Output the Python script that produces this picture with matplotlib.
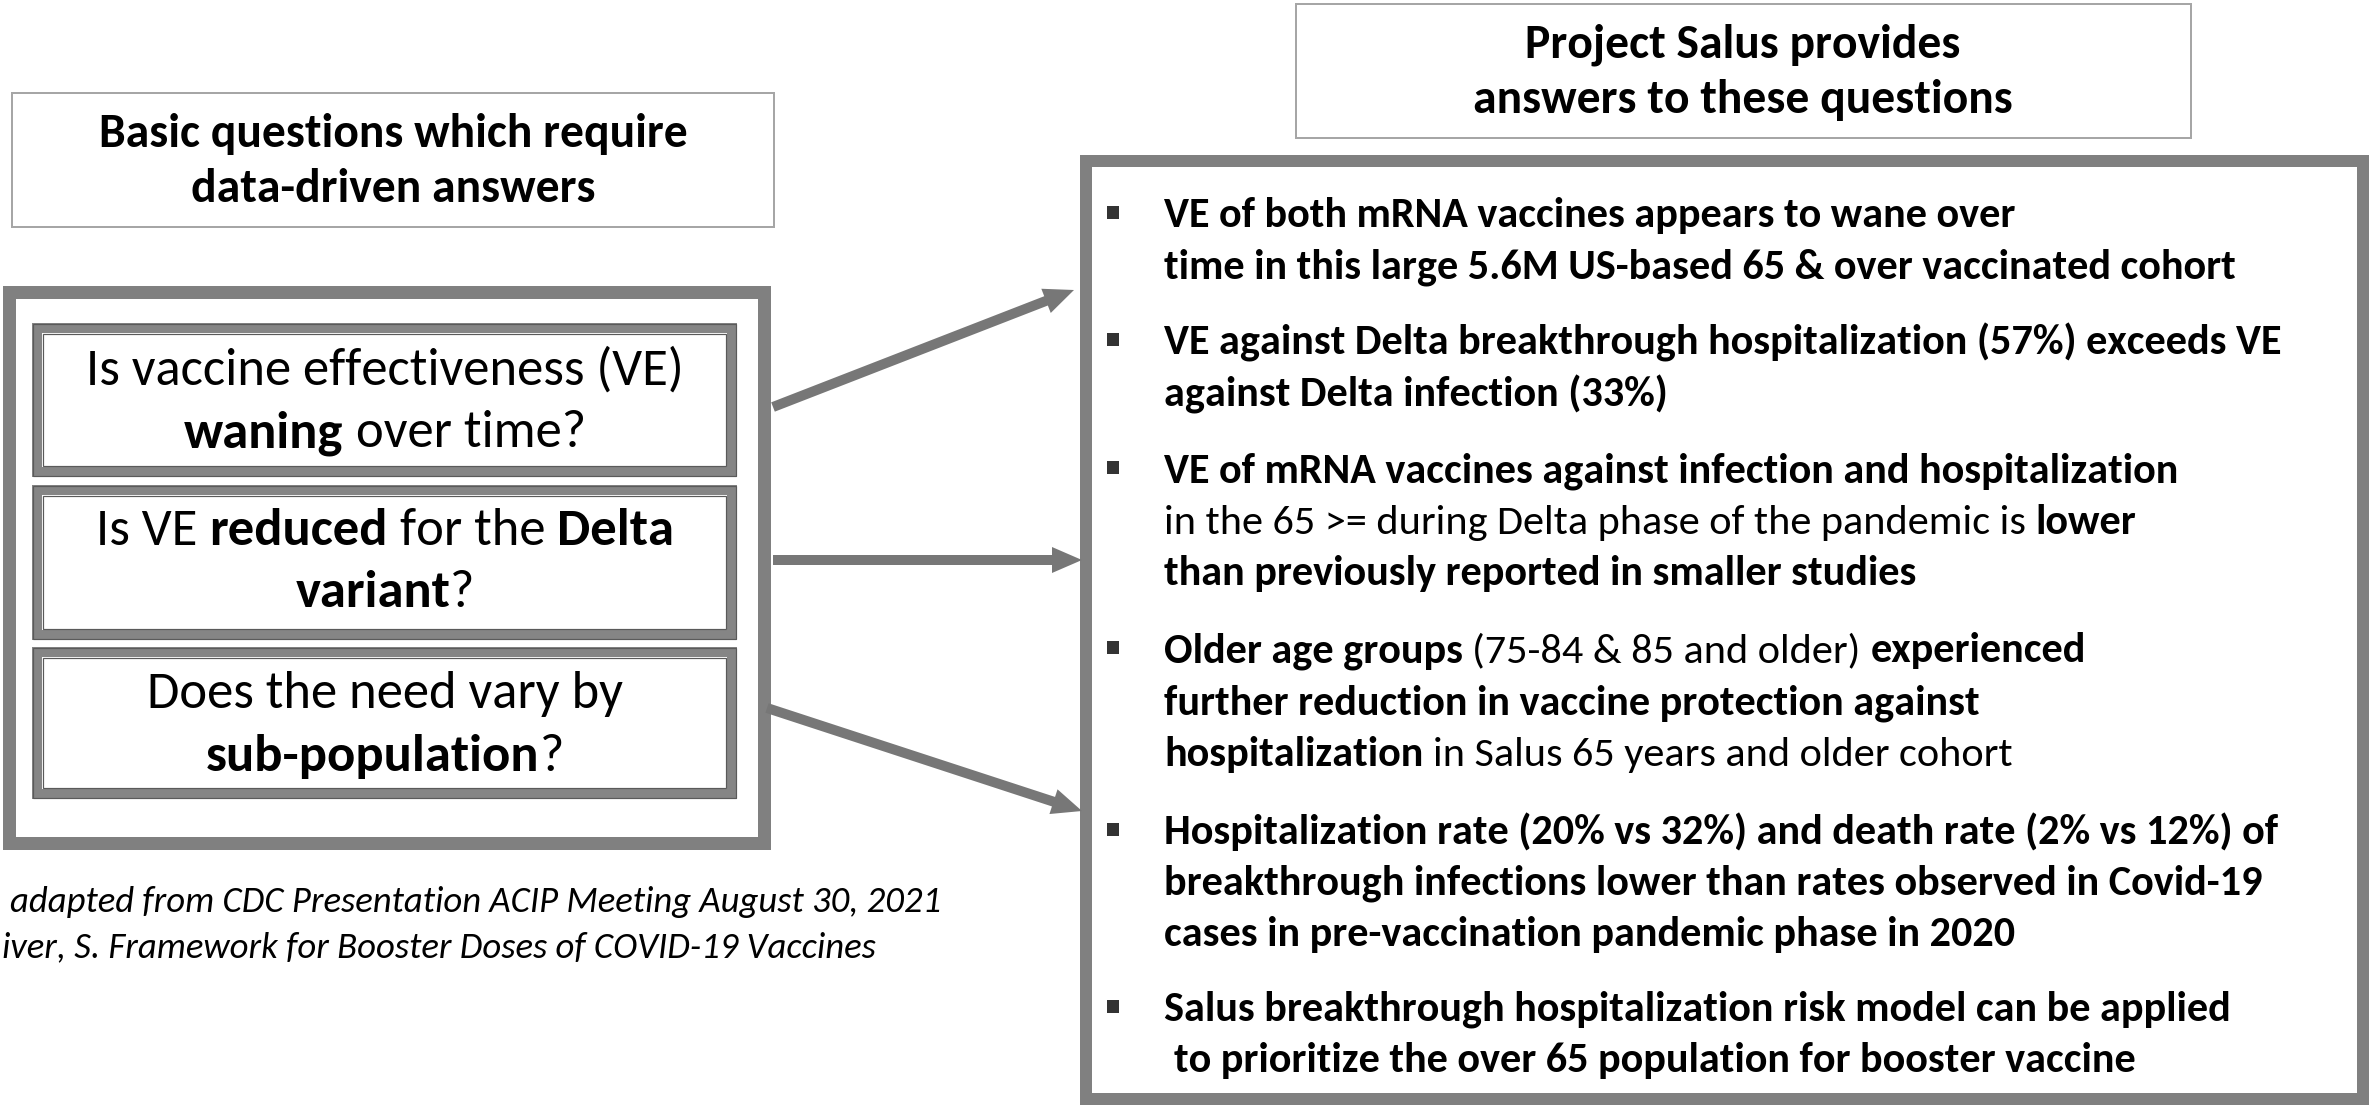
import matplotlib
matplotlib.use("Agg")
import matplotlib.pyplot as plt
from matplotlib.patches import Rectangle, FancyArrow

# ---- content -------------------------------------------------------------
LEFT_TITLE = ["Basic questions which require", "data-driven answers"]
RIGHT_TITLE = ["Project Salus provides", "answers to these questions"]

# each question: list of lines, each line: list of (text, bold)
QUESTIONS = [
    [[("Is vaccine effectiveness (VE)", False)],
     [("waning", True), (" over time?", False)]],
    [[("Is VE ", False), ("reduced", True), (" for the ", False), ("Delta", True)],
     [("variant", True), ("?", False)]],
    [[("Does the need vary by", False)],
     [("sub-population", True), ("?", False)]],
]

ANSWERS = [
    [[("VE of both mRNA vaccines appears to wane over", True)],
     [("time in this large 5.6M US-based 65 & over vaccinated cohort", True)]],
    [[("VE against Delta breakthrough hospitalization (57%) exceeds VE", True)],
     [("against Delta infection (33%)", True)]],
    [[("VE of mRNA vaccines against infection and hospitalization", True)],
     [("in the 65 >= during Delta phase of the pandemic is ", False), ("lower", True)],
     [("than previously reported in smaller studies", True)]],
    [[("Older age groups", True), (" (75-84 & 85 and older) ", False), ("experienced", True)],
     [("further reduction in vaccine protection against", True)],
     [("hospitalization", True), (" in Salus 65 years and older cohort", False)]],
    [[("Hospitalization rate (20% vs 32%) and death rate (2% vs 12%) of", True)],
     [("breakthrough infections lower than rates observed in Covid-19", True)],
     [("cases in pre-vaccination pandemic phase in 2020", True)]],
    [[("Salus breakthrough hospitalization risk model can be applied", True)],
     [(" to prioritize the over 65 population for booster vaccine", True)]],
]

FOOTNOTES = [" adapted from CDC Presentation ACIP Meeting August 30, 2021",
             "iver, S. Framework for Booster Doses of COVID-19 Vaccines"]

FAM = ["Carlito", "Lato", "DejaVu Sans"]
GREY = "#808080"
W, H = 2369, 1105

fig = plt.figure(figsize=(W / 100, H / 100), dpi=100)
ax = fig.add_axes([0, 0, 1, 1])
ax.set_xlim(0, W)
ax.set_ylim(H, 0)
ax.axis("off")
R = fig.canvas.get_renderer()


def kw(size, bold, italic=False):
    return dict(fontsize=size, fontweight="bold" if bold else "normal",
                fontstyle="italic" if italic else "normal", family=FAM)


def adv(s, size, bold, italic=False):
    # advance width in px, spaces included
    t1 = ax.text(0, 0, "|" + s + "|", **kw(size, bold, italic))
    t2 = ax.text(0, 0, "||", **kw(size, bold, italic))
    w = t1.get_window_extent(R).width - t2.get_window_extent(R).width
    t1.remove()
    t2.remove()
    return w


def fit(s, target, bold, italic=False):
    return 30 * target / adv(s, 30, bold, italic)


def draw_line(x, y, segs, size, ha="left", italic=False, color="black"):
    widths = [adv(s, size, b, italic) for s, b in segs]
    if ha == "center":
        x -= sum(widths) / 2
    for (s, b), w in zip(segs, widths):
        core = s.lstrip(" ")
        lead = adv(s[:len(s) - len(core)], size, b, italic) if core != s else 0
        ax.text(x + lead, y, core, ha="left", va="baseline", color=color,
                **kw(size, b, italic))
        x += w


def box(x0, y0, x1, y1, lw_px, color):
    # x0..y1 are outer edges, border drawn inside
    h = lw_px / 2
    ax.add_patch(Rectangle((x0 + h, y0 + h), x1 - x0 - lw_px, y1 - y0 - lw_px,
                           fill=False, edgecolor=color, linewidth=lw_px * 0.72))


# font sizes fitted to the widths measured on the reference
s_title = fit(LEFT_TITLE[0], 587, True)
s_q = fit(QUESTIONS[0][0][0][0], 597, False)
s_a = fit(ANSWERS[4][0][0][0], 1113, True)
s_note = fit(FOOTNOTES[0].strip(), 932, False, True)

# ---- left side -------------------------------------------------------------
box(11, 92, 775, 228, 2, "#a6a6a6")
for line, yb in zip(LEFT_TITLE, [147, 202]):
    draw_line(393, yb, [(line, True)], s_title, ha="center")

box(2, 285, 770, 849, 13, GREY)
q_boxes = [(323, 477), (485, 640), (647, 799)]
q_base = [(385, 447), (545, 607), (708, 771)]
for (y0, y1), lines, bases in zip(q_boxes, QUESTIONS, q_base):
    box(32, y0, 737, y1, 10, "#858585")
    box(32, y0, 737, y1, 1.2, "#5a5a5a")
    box(42, y0 + 10, 727, y1 - 10, 1.2, "#5a5a5a")
    for segs, yb in zip(lines, bases):
        draw_line(385, yb, segs, s_q, ha="center")

draw_line(10, 912, [(FOOTNOTES[0].strip(), False)], s_note, italic=True)
draw_line(2, 957, [(FOOTNOTES[1], False)], s_note, italic=True)

# ---- right side ------------------------------------------------------------
box(1295, 3, 2192, 139, 2, "#a6a6a6")
for line, yb in zip(RIGHT_TITLE, [57, 113]):
    draw_line(1743, yb, [(line, True)], s_title, ha="center")

box(1080, 155, W, H, 12, GREY)
a_base = [(227, 278), (354, 407), (482, 534, 585),
          (662, 715, 766), (844, 895, 946), (1021, 1072)]
for lines, bases in zip(ANSWERS, a_base):
    ax.add_patch(Rectangle((1107, bases[0] - 21), 12, 13, facecolor="#333333",
                           edgecolor="none"))
    for segs, yb in zip(lines, bases):
        draw_line(1164, yb, segs, s_a)

# ---- arrows ----------------------------------------------------------------
for (xa, ya), (xb, yb) in [((773, 407), (1074, 290)),
                           ((773, 560), (1082, 560)),
                           ((767, 708), (1082, 811))]:
    ax.add_patch(FancyArrow(xa, ya, xb - xa, yb - ya, width=10, head_width=26,
                            head_length=30, length_includes_head=True,
                            color="#777777", linewidth=0))

fig.savefig("out.png", dpi=100)
